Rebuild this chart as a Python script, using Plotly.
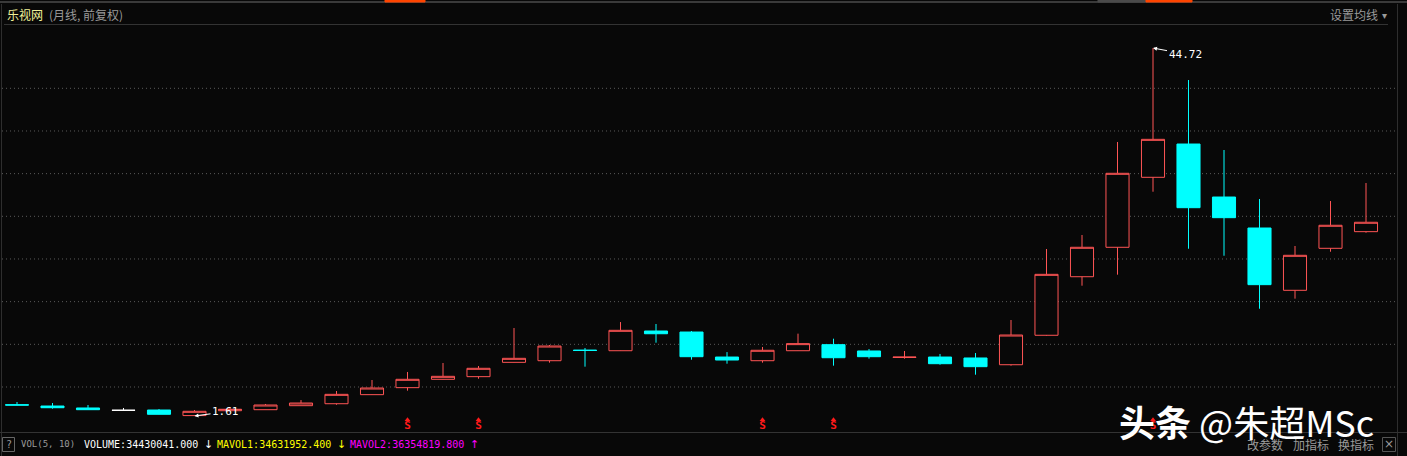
import plotly.graph_objects as go

# ---------------- data (monthly candles, forward-adjusted) ----------------
periods = list(range(39))
opens = [2.92, 2.77, 2.54, 2.27, 2.30, 1.65, 2.22, 2.34, 2.81, 3.04,
         4.10, 4.92, 5.90, 6.21, 7.89, 8.08, 9.32, 9.25, 11.56, 11.44,
         8.51, 8.08, 9.25, 9.96, 9.22, 8.46, 8.51, 8.40, 7.61, 11.06,
         17.92, 21.37, 29.57, 33.47, 27.26, 23.63, 16.33, 21.25, 23.20]
highs = [3.24, 3.12, 2.89, 2.54, 2.42, 2.30, 2.65, 3.01, 3.47, 4.53,
         5.82, 6.76, 7.81, 7.46, 11.91, 9.92, 9.57, 12.61, 12.38, 11.56,
         9.09, 9.69, 11.25, 10.66, 9.45, 9.22, 8.87, 8.98, 12.85, 21.17,
         22.81, 33.71, 44.72, 40.97, 32.77, 27.03, 21.52, 26.79, 28.90]
lows = [2.86, 2.46, 2.32, 2.25, 1.78, 1.61, 2.20, 2.33, 2.80, 2.92,
        4.08, 4.57, 5.88, 5.97, 7.87, 7.85, 7.38, 9.23, 10.19, 8.20,
        7.73, 7.85, 9.23, 7.50, 8.32, 8.32, 7.61, 6.44, 7.50, 11.00,
        16.87, 18.16, 27.88, 21.20, 20.38, 14.17, 15.35, 20.85, 23.08]
closes = [2.88, 2.57, 2.34, 2.27, 1.80, 2.15, 2.39, 2.89, 3.12, 4.14,
          4.88, 5.90, 6.25, 7.19, 8.36, 9.80, 9.28, 11.64, 11.24, 8.55,
          8.16, 9.30, 10.08, 8.43, 8.55, 8.50, 7.73, 7.38, 11.09, 18.20,
          21.37, 30.04, 34.02, 26.01, 24.84, 16.99, 20.43, 23.95, 24.30]
signal_periods = [11, 13, 21, 23, 32]
grid_levels = [5, 10, 15, 20, 25, 30, 35, 40]

title_main = "乐视网"
title_sub = "(月线, 前复权)"
vol_label = "VOL(5, 10)"
volume_text = "VOLUME:34430041.000"
mavol1_text = "MAVOL1:34631952.400"
mavol2_text = "MAVOL2:36354819.800"

# ---------------- styling ----------------
BG = "#080808"
RED = "#ff5555"
CYAN = "#00ffff"
LINE = "#363636"
W, H = 1407, 456
PL, PR, PT, PB = 2, 1397, 26, 432  # plot area pixel box


def px_x(p):
    return (p - PL) / (PR - PL)


def px_y(p):
    return (PB - p) / (PB - PT)


def split(cond):
    idx = [i for i in periods if cond(i)]
    return dict(x=[periods[i] for i in idx], open=[opens[i] for i in idx],
                high=[highs[i] for i in idx], low=[lows[i] for i in idx],
                close=[closes[i] for i in idx])


fig = go.Figure()
for cond, col, fill in [
    (lambda i: closes[i] > opens[i], RED, BG),
    (lambda i: closes[i] < opens[i], CYAN, CYAN),
    (lambda i: closes[i] == opens[i], "#ffffff", "#ffffff"),
]:
    d = split(cond)
    fig.add_trace(go.Candlestick(
        **d,
        increasing=dict(line=dict(color=col, width=1), fillcolor=fill),
        decreasing=dict(line=dict(color=col, width=1), fillcolor=fill),
        whiskerwidth=0, hoverinfo="skip", showlegend=False,
    ))

# signal markers
fig.add_trace(go.Scatter(
    x=signal_periods, y=[1.15] * len(signal_periods), mode="markers",
    marker=dict(symbol="triangle-up", size=5, color="#ff1a1a"),
    hoverinfo="skip", showlegend=False))
fig.add_trace(go.Scatter(
    x=signal_periods, y=[0.40] * len(signal_periods), mode="text",
    text=["<b>S</b>"] * len(signal_periods),
    textfont=dict(color="#ff1a1a", size=11, family="DejaVu Sans Mono"),
    hoverinfo="skip", showlegend=False))

# extreme annotations
imax = max(periods, key=lambda i: highs[i])
imin = min(periods, key=lambda i: lows[i])
annos = [
    dict(x=periods[imax], y=highs[imax], text=f"{highs[imax]:.2f}", showarrow=True,
         ax=32, ay=6, arrowhead=2, arrowsize=0.8, arrowwidth=1, arrowcolor="#ffffff",
         font=dict(color="#ffffff", size=11, family="DejaVu Sans Mono")),
    dict(x=periods[imin], y=lows[imin], text=f"{lows[imin]:.2f}", showarrow=True,
         ax=31, ay=-4, arrowhead=2, arrowsize=0.8, arrowwidth=1, arrowcolor="#ffffff",
         font=dict(color="#ffffff", size=11, family="DejaVu Sans Mono")),
]


def txt(x, y, s, color, size=12, family="Noto Sans CJK SC", anchor="left"):
    annos.append(dict(x=px_x(x), y=px_y(y), xref="paper", yref="paper", text=s,
                      showarrow=False, xanchor=anchor, yanchor="middle",
                      font=dict(color=color, size=size, family=family)))


txt(5, 14, title_main, "#f2f29a", 12)
txt(47, 14, title_sub, "#9a9a9a", 12)
txt(1328, 14, "设置均线", "#9a9a9a", 12)
txt(1380, 14, "▾", "#9a9a9a", 10)
txt(8.5, 444, "?", "#9a9a9a", 10, "DejaVu Sans Mono", "center")
txt(19, 444, vol_label, "#9a9a9a", 9, "DejaVu Sans Mono")
txt(82, 444, volume_text, "#ffffff", 10, "DejaVu Sans Mono")
txt(202, 444, "↓", "#ffffff", 11, "DejaVu Sans")
txt(215, 444, mavol1_text, "#ffff00", 10, "DejaVu Sans Mono")
txt(335, 444, "↓", "#ffff00", 11, "DejaVu Sans")
txt(348, 444, mavol2_text, "#ff00ff", 10, "DejaVu Sans Mono")
txt(468, 444, "↑", "#ff00ff", 11, "DejaVu Sans")
txt(1245, 444, "改参数", "#9a9a9a", 12)
txt(1291, 444, "加指标", "#9a9a9a", 12)
txt(1336, 444, "换指标", "#9a9a9a", 12)
txt(1388.5, 444, "×", "#9a9a9a", 12, "DejaVu Sans", "center")
txt(1117, 421, "<b>头条</b> @朱超MSc", "#ffffff", 36)

shapes = []


def line(x0, y0, x1, y1, color=LINE, width=1):
    shapes.append(dict(type="line", xref="paper", yref="paper",
                       x0=px_x(x0), y0=px_y(y0), x1=px_x(x1), y1=px_y(y1),
                       line=dict(color=color, width=width)))


def rect(x0, y0, x1, y1, color, fill=None):
    shapes.append(dict(type="rect", xref="paper", yref="paper",
                       x0=px_x(x0), y0=px_y(y0), x1=px_x(x1), y1=px_y(y1),
                       line=dict(color=color, width=1),
                       fillcolor=fill if fill else "rgba(0,0,0,0)"))


line(0, 2, W, 2, "#3a3a3a", 2)
line(4, 24.5, 1388, 24.5, "#333333")
line(1.5, 4, 1.5, H, "#2e2e2e")
line(PR + 0.5, 4, PR + 0.5, H, "#2e2e2e")
line(0, 432.5, W, 432.5, "#333333")
rect(2.5, 437.5, 14.5, 451.5, "#666666")
rect(1382.5, 437.5, 1395.5, 451.5, "#555555")
rect(1098, 0, 1146, 2, "#4a4a4a", "#4a4a4a")
rect(1146, 0, 1192, 2, "#ff4500", "#ff4500")
rect(385, 0, 425, 2, "#ff4500", "#ff4500")

# price gridlines (dotted)
for g in grid_levels:
    shapes.append(dict(type="line", xref="paper", yref="y", x0=0, x1=1, y0=g, y1=g,
                       line=dict(color="#5a5a5a", width=1, dash="1px,3px"), layer="below"))

# axis ranges so that candle spacing ~35.5 px
step = 35.5
x0 = -(17 - PL) / step
x1 = x0 + (PR - PL) / step
ppu = 8.534
ytop = 40 + (88.3 - PT) / ppu
ybot = 40 - (PB - 88.3) / ppu

fig.update_layout(
    width=W, height=H,
    margin=dict(l=PL, r=W - PR, t=PT, b=H - PB, pad=0),
    paper_bgcolor=BG, plot_bgcolor=BG,
    xaxis=dict(range=[x0, x1], visible=False, rangeslider=dict(visible=False), fixedrange=True),
    yaxis=dict(range=[ybot, ytop], visible=False, fixedrange=True),
    boxgap=0.35, boxgroupgap=0.0,
    annotations=annos, shapes=shapes, showlegend=False,
    hovermode=False,
)

fig.write_html("out.html", config={"displayModeBar": False},
               post_script="document.body.style.margin='0';document.body.style.background='#080808';")
